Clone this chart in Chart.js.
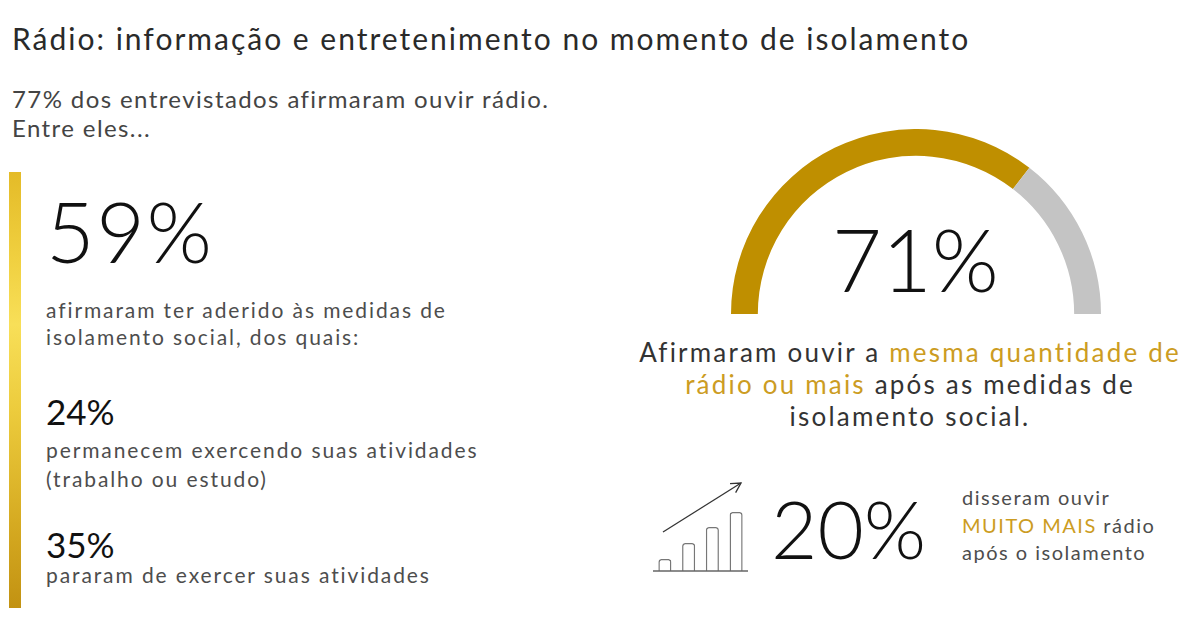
<!DOCTYPE html>
<html lang="pt-BR">
<head>
<meta charset="utf-8">
<title>Rádio: informação e entretenimento no momento de isolamento</title>
<script src="https://cdn.jsdelivr.net/npm/chart.js@4.4.1/dist/chart.umd.min.js"></script>
<style>
  body { margin: 0; width: 1200px; height: 624px; background: #fff; position: relative; overflow: hidden; font-family: Lato, sans-serif; color: #4a4a4a; }
  .t { position: absolute; white-space: nowrap; line-height: normal; }
  .title { left: 12px; top: 20px; font-size: 30px; color: #2a2a2a; letter-spacing: 2px; }
  .intro { left: 12px; font-size: 24px; color: #444; letter-spacing: 1.4px; }
  .big { font-weight: 300; color: #111; }
  .body { font-size: 21px; color: #4d4d4d; letter-spacing: 1.9px; }
  .gold { color: #cc9c22; }
  #sidebar { position: absolute; left: 9px; top: 172px; width: 12px; height: 436px;
    background: linear-gradient(to bottom, #e4bb28 0%, #f0d040 20%, #f8df58 35%, #eccb3c 55%, #d6ab22 80%, #c29212 100%); }
  #gaugeWrap { position: absolute; left: 731px; top: 129px; width: 370px; height: 185px; }
  #iconWrap { position: absolute; left: 650px; top: 478px; width: 102px; height: 96px; }
  .center { text-align: center; width: 580px; left: 620px; font-size: 26px; color: #333; letter-spacing: 2.2px; }
  .side { font-size: 20px; letter-spacing: 1.5px; }
</style>
</head>
<body>
<div class="t title">Rádio: informação e entretenimento no momento de isolamento</div>
<div class="t intro" style="top:84px">77% dos entrevistados afirmaram ouvir rádio.</div>
<div class="t intro" style="top:113px">Entre eles...</div>

<div id="sidebar"></div>

<div class="t big" style="left:46px; top:180px; font-size:84px; letter-spacing:1.5px">59%</div>
<div class="t body" style="left:46px; top:297px">afirmaram ter aderido às medidas de</div>
<div class="t body" style="left:46px; top:324px">isolamento social, dos quais:</div>

<div class="t big" style="left:46px; top:390px; font-size:35px; font-weight:400">24%</div>
<div class="t body" style="left:46px; top:437px">permanecem exercendo suas atividades</div>
<div class="t body" style="left:46px; top:466px">(trabalho ou estudo)</div>

<div class="t big" style="left:46px; top:523px; font-size:35px; font-weight:400">35%</div>
<div class="t body" style="left:46px; top:562px">pararam de exercer suas atividades</div>

<div id="gaugeWrap"><canvas id="gauge" width="370" height="185"></canvas></div>
<div class="t big" style="left:832px; top:207px; font-size:86px">71%</div>

<div class="t center" style="top:336px">Afirmaram ouvir a <span class="gold">mesma quantidade de</span></div>
<div class="t center" style="top:368px"><span class="gold">rádio ou mais</span> após as medidas de</div>
<div class="t center" style="top:400px">isolamento social.</div>

<div id="iconWrap"><canvas id="icon" width="102" height="96"></canvas></div>
<div class="t big" style="left:771px; top:480px; font-size:80px">20%</div>

<div class="t body side" style="left:962px; top:485px">disseram ouvir</div>
<div class="t body side" style="left:962px; top:513px"><span class="gold">MUITO MAIS</span> rádio</div>
<div class="t body side" style="left:962px; top:540px">após o isolamento</div>

<script>
// gauge data: same amount of radio or more vs the rest
const gaugeLabels = ['Mesma quantidade ou mais', 'Outros'];
const gaugeValues = [71, 29];
const gaugeColors = ['#bf8f00', '#c4c4c4'];

// little rising bars in the icon
const iconLabels = ['1', '2', '3', '4'];
const iconValues = [12, 28, 44, 59];

Chart.defaults.animation = false;

//half doughnut gauge
new Chart(document.querySelector('#gauge'), {
  type: 'doughnut',
  data: {
    labels: gaugeLabels,
    datasets: [
      {
        data: gaugeValues,
        backgroundColor: gaugeColors,
        borderWidth: 0,
      },
    ],
  },
  options: {
    responsive: false,
    rotation: -90,
    circumference: 180,
    cutout: '85.5%',
    events: [],
    plugins: {
      legend: { display: false },
      tooltip: { enabled: false },
    },
  },
});

//baseline + arrow on top of the icon bars
const iconDecor = {
  id: 'iconDecor',
  afterDatasetsDraw(chart) {
    const { ctx, chartArea } = chart;
    const y0 = chart.scales.y.getPixelForValue(0);
    ctx.save();
    ctx.strokeStyle = '#666';
    ctx.lineWidth = 1.5;
    ctx.beginPath();
    ctx.moveTo(chartArea.left, y0);
    ctx.lineTo(chartArea.right, y0);
    ctx.stroke();

    const x1 = chartArea.left + 10;
    const yA = chartArea.top + 52;
    const x2 = chartArea.right - 7;
    const yB = chartArea.top + 3;
    ctx.strokeStyle = '#333';
    ctx.lineWidth = 1.3;
    ctx.beginPath();
    ctx.moveTo(x1, yA);
    ctx.lineTo(x2, yB);
    ctx.stroke();
    const ang = Math.atan2(yB - yA, x2 - x1);
    ctx.beginPath();
    ctx.moveTo(x2 - 11 * Math.cos(ang - 0.5), yB - 11 * Math.sin(ang - 0.5));
    ctx.lineTo(x2, yB);
    ctx.lineTo(x2 - 11 * Math.cos(ang + 0.5), yB - 11 * Math.sin(ang + 0.5));
    ctx.stroke();
    ctx.restore();
  },
};

new Chart(document.querySelector('#icon'), {
  type: 'bar',
  data: {
    labels: iconLabels,
    datasets: [
      {
        data: iconValues,
        backgroundColor: '#fff',
        borderColor: '#777',
        borderWidth: 1.5,
        borderSkipped: 'bottom',
        borderRadius: { topLeft: 3, topRight: 3 },
        barPercentage: 0.55,
        categoryPercentage: 1,
      },
    ],
  },
  options: {
    responsive: false,
    events: [],
    layout: { padding: { top: 2, bottom: 3, left: 3, right: 4 } },
    scales: {
      x: { display: false },
      y: { display: false, min: 0, max: 91 },
    },
    plugins: {
      legend: { display: false },
      tooltip: { enabled: false },
    },
  },
  plugins: [iconDecor],
});
</script>
</body>
</html>
